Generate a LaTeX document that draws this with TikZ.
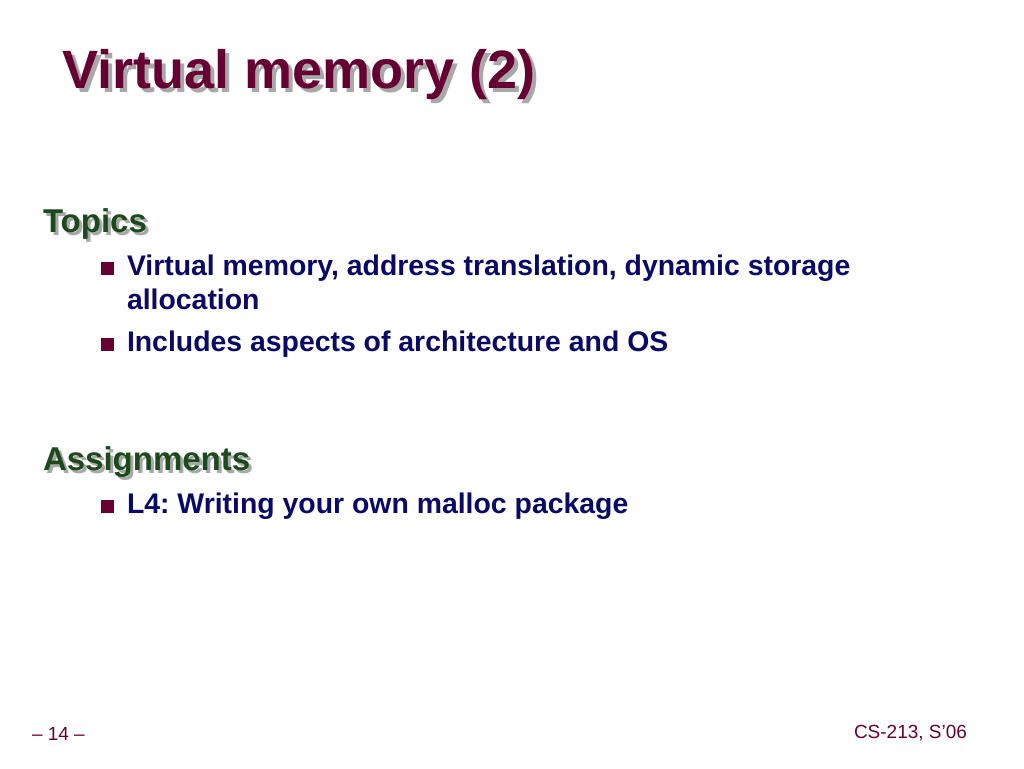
\documentclass[tikz,border=0pt]{standalone}
\usepackage{fontspec}
\setmainfont{Liberation Sans}
\usepackage{tikz}
\frenchspacing
\definecolor{slidered}{HTML}{660033}
\definecolor{slidegreen}{HTML}{1C4A1C}
\definecolor{slideblue}{HTML}{0A0A66}
\definecolor{slideshadow}{HTML}{A8A8A8}
% text with a grey drop shadow: #1 offset, #2 colour, #3 text
\newcommand{\dropshade}[3]{\rlap{\hspace{#1}\raisebox{-#1}{\textcolor{slideshadow}{#3}}}\textcolor{#2}{#3}}
\tikzset{
  txt/.style={anchor=base west,inner sep=0pt,outer sep=0pt},
  ttl/.style={txt,font=\fontsize{54}{54}\selectfont\bfseries},
  hd/.style={txt,font=\fontsize{33}{33}\selectfont\bfseries},
  itm/.style={txt,font=\fontsize{28.4}{28.4}\selectfont\bfseries,text=slideblue},
  foot/.style={txt,font=\fontsize{19}{19}\selectfont,text=slidered},
  sq/.style={fill=slidered,minimum size=13pt,inner sep=0pt}
}

\begin{document}
\begin{tikzpicture}[x=1pt,y=-1pt]
  \useasboundingbox [fill=white] (0,0) rectangle (1024,768);
  % title
  \node [ttl] (title) at (62,88) {\dropshade{4pt}{slidered}{Virtual memory (2)}};
  % topics
  \node [hd] (topics) at (43,232) {\dropshade{3pt}{slidegreen}{Topics}};
  \node [sq] (b1) at (107,268) {};
  \node [itm] (t1) at (127,275) {Virtual memory, address translation, dynamic storage};
  \node [itm] (t1b) at (127,309) {allocation};
  \node [sq] (b2) at (107,344) {};
  \node [itm] (t2) at (127,351) {Includes aspects of architecture and OS};
  % assignments
  \node [hd] (assign) at (43,470) {\dropshade{3pt}{slidegreen}{Assignments}};
  \node [sq] (b3) at (107,506) {};
  \node [itm] (t3) at (127,513) {L4: Writing your own malloc package};
  % footer
  \node [foot] (pg) at (32,740) {-- 14 --};
  \node [foot,anchor=base east] (crs) at (967,738) {CS-213, S'06};
\end{tikzpicture}
\end{document}
